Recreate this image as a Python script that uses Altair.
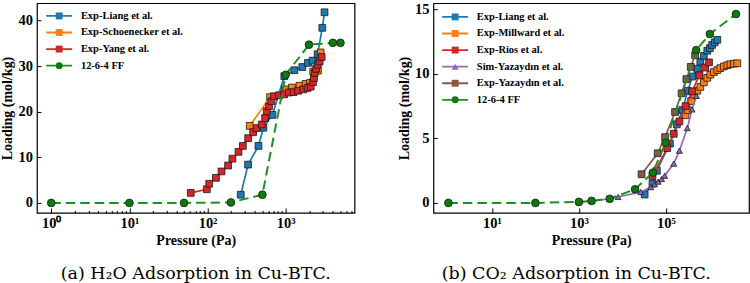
import altair as alt
import pandas as pd

# ---------------- H2O adsorption in Cu-BTC (P in Pa, loading in mol/kg) ----------------
h2o_liang_p = [266, 330, 448, 519, 676, 960, 1290, 1633, 1928, 2210, 2560, 2940, 3140]
h2o_liang_q = [1.8, 8.4, 12.5, 16.5, 19.3, 27.8, 29.1, 29.8, 30.7, 31.2, 32.6, 38.4, 41.8]

h2o_schoen_p = [347, 631, 977, 1200, 1500, 1800, 2040, 2250, 2580, 2800]
h2o_schoen_q = [16.9, 23.2, 24.9, 25.3, 25.7, 26.1, 26.3, 28.8, 29.0, 33.0]

h2o_yang_p = [61, 98, 105, 128, 151, 183, 208, 249, 283, 331, 383, 426, 494, 545, 572,
              612, 656, 708, 822, 955, 1100, 1259, 1445, 1682, 1905, 2090, 2238, 2300,
              2350, 2450, 2570, 2718, 2884]
h2o_yang_q = [2.2, 3.0, 4.2, 5.5, 6.9, 8.2, 9.7, 11.2, 12.5, 14.2, 15.5, 16.4, 17.2, 18.6, 20.1,
              21.2, 22.3, 23.4, 23.6, 23.8, 24.2, 24.3, 24.6, 24.9, 25.2, 25.5, 26.5, 27.4,
              28.5, 29.4, 30.3, 31.0, 32.0]

h2o_ff_p = [1, 10, 50, 199, 503, 1000, 1986, 4018, 5020]
h2o_ff_q = [0, 0, 0, 0.1, 1.8, 28.1, 34.7, 35.1, 35.1]

# ---------------- CO2 adsorption in Cu-BTC ----------------
co2_liang_p = [32400, 49000, 61700, 123000, 178000, 240000, 316000, 407000, 525000, 617000,
               741000, 891000, 1023000, 1148000, 1318000, 1514000]
co2_liang_q = [0.65, 1.5, 2.5, 4.6, 6.1, 7.2, 8.7, 9.8, 10.4, 10.95, 11.4, 11.8, 12.0, 12.25,
               12.45, 12.65]

co2_millward_p = [282000, 316000, 380000, 447000, 525000, 617000, 741000, 891000, 1047000,
                  1259000, 1514000, 1778000, 2138000, 2570000, 3020000, 3631000, 4365000]
co2_millward_q = [6.8, 7.2, 7.9, 8.4, 8.7, 9.0, 9.35, 9.7, 9.95, 10.15, 10.3, 10.45, 10.58,
                  10.68, 10.76, 10.8, 10.83]

co2_rios_p = [49000, 107000, 151000, 204000, 282000, 398000, 589000, 794000, 977000]
co2_rios_q = [2.09, 4.25, 5.36, 6.32, 7.5, 8.65, 9.9, 10.5, 10.9]

co2_sim_p = [1000, 2000, 5130, 7940, 26300, 44700, 55000, 66100, 79400, 93300, 151000,
             204000, 309000, 398000, 501000]
co2_sim_q = [0.05, 0.14, 0.32, 0.46, 0.85, 1.22, 1.45, 1.65, 1.85, 2.1, 3.05, 4.05, 5.8,
             7.25, 8.3]

co2_yaz_p = [27500, 64600, 95500, 162000, 229000, 295000, 372000, 468000]
co2_yaz_q = [2.22, 3.85, 5.1, 7.05, 8.5, 9.6, 10.55, 11.45]

co2_ff_p = [1, 100, 1000, 1950, 5100, 19500, 50000, 98000, 495000, 1020000, 4070000]
co2_ff_q = [0, 0, 0.08, 0.16, 0.32, 1.06, 2.35, 4.66, 11.85, 13.1, 14.65]

# ---------------- styling ----------------
FONT = "Liberation Serif, Times New Roman, serif"
EDGE = "#1a1a1a"
BLUE, ORANGE, RED = "#1f77b4", "#ff7f0e", "#d62728"
PURPLE, BROWN = "#9467bd", "#8c564b"
GREEN_LINE, GREEN_MARK = "#1f8f1f", "#0c7a0c"
# short horizontal stroke used as the line sample in the legends
LEGEND_LINE = "M-3.5,0H3.5"


def series(name, p, q, line, fill, shape, size, dashed=False):
    return dict(name=name, p=p, q=q, line=line, fill=fill, shape=shape, size=size, dashed=dashed)


h2o_series = [
    series("Exp-Liang et al.", h2o_liang_p, h2o_liang_q, BLUE, BLUE, "square", 46),
    series("Exp-Schoenecker et al.", h2o_schoen_p, h2o_schoen_q, ORANGE, ORANGE, "square", 46),
    series("Exp-Yang et al.", h2o_yang_p, h2o_yang_q, RED, RED, "square", 46),
    series("12-6-4 FF", h2o_ff_p, h2o_ff_q, GREEN_LINE, GREEN_MARK, "circle", 60, dashed=True),
]

co2_series = [
    series("Exp-Liang et al.", co2_liang_p, co2_liang_q, BLUE, BLUE, "square", 46),
    series("Exp-Millward et al.", co2_millward_p, co2_millward_q, ORANGE, ORANGE, "square", 46),
    series("Exp-Rios et al.", co2_rios_p, co2_rios_q, RED, RED, "square", 46),
    series("Sim-Yazaydın et al.", co2_sim_p, co2_sim_q, PURPLE, PURPLE, "triangle-up", 36),
    series("Exp-Yazaydın et al.", co2_yaz_p, co2_yaz_q, BROWN, BROWN, "square", 46),
    series("12-6-4 FF", co2_ff_p, co2_ff_q, GREEN_LINE, GREEN_MARK, "circle", 60, dashed=True),
]


def panel(data, tag, x_dom, y_dom, x_major, x_minor, y_ticks, label_expr, W, H,
          leg_x, leg_y, caption, cap_dx):
    names = [s["name"] for s in data]
    keys = ["%s%d" % (tag, i) for i in range(len(data))]
    stroke_scale = alt.Scale(domain=names, range=[s["line"] for s in data])
    fill_scale = alt.Scale(domain=keys, range=[s["fill"] for s in data])
    shape_scale = alt.Scale(domain=keys, range=[s["shape"] for s in data])

    common_leg = dict(orient="none", title=None, padding=0, rowPadding=5.6,
                      legendX=leg_x, legendY=leg_y, labelOffset=16.5,
                      labelFont=FONT, labelFontSize=10.5, labelFontWeight="bold",
                      labelColor="black", labelLimit=300)
    # line samples carry the series names; the marker legend sits on top of them
    line_legend = alt.Legend(symbolType=LEGEND_LINE, symbolSize=55, symbolStrokeWidth=1.8,
                             **common_leg)
    mark_legend = alt.Legend(symbolSize=48, symbolStrokeColor=EDGE, symbolStrokeWidth=0.8,
                             labelExpr="''", labelOpacity=0, **common_leg)

    xs = alt.Scale(type="log", domain=x_dom, nice=False)
    ys = alt.Scale(domain=y_dom, nice=False, zero=False)

    main_x = alt.Axis(orient="bottom", values=x_major, labelExpr=label_expr, tickSize=0,
                      labelPadding=4, title="Pressure (Pa)", titlePadding=3)
    main_y = alt.Axis(orient="left", values=y_ticks, tickSize=0, labelPadding=4.5,
                      title="Loading (mol/kg)", titlePadding=3)
    # inward-pointing ticks: opposite-side axes pulled onto the frame edge
    tick_x = alt.Axis(orient="top", offset=-H, values=x_major, tickSize=5,
                      labels=False, title=None)
    tick_y = alt.Axis(orient="right", offset=-W, values=y_ticks, tickSize=4,
                      labels=False, title=None)
    minor_x = alt.Axis(orient="top", offset=-H, values=x_minor, tickSize=2.5,
                       labels=False, title=None)

    axis_plan = {0: (main_x, main_y), 1: (tick_x, tick_y)}
    if x_minor:
        axis_plan[2] = (minor_x, None)

    layers = []
    idx = 0
    for i, s in enumerate(data):
        df = pd.DataFrame({"P": s["p"], "Q": s["q"], "name": s["name"], "key": keys[i]})
        for kind in ("line", "point"):
            ax_x, ax_y = axis_plan.get(idx, (None, None))
            x_enc = alt.X("P:Q", scale=xs, axis=ax_x)
            y_enc = alt.Y("Q:Q", scale=ys, axis=ax_y)
            if kind == "line":
                if s["dashed"]:
                    mark = alt.Chart(df).mark_line(strokeWidth=2, strokeDash=[9.5, 5])
                else:
                    mark = alt.Chart(df).mark_line(strokeWidth=1.7)
                layer = mark.encode(
                    x=x_enc, y=y_enc,
                    stroke=alt.Stroke("name:N", scale=stroke_scale, legend=line_legend),
                    order=alt.Order("P:Q"),
                )
            else:
                layer = alt.Chart(df).mark_point(
                    filled=True, size=s["size"], stroke=EDGE, strokeWidth=0.8, opacity=1
                ).encode(
                    x=x_enc, y=y_enc,
                    fill=alt.Fill("key:N", scale=fill_scale, legend=mark_legend),
                    shape=alt.Shape("key:N", scale=shape_scale, legend=mark_legend),
                )
            layers.append(layer)
            idx += 1

    return alt.layer(*layers).resolve_axis(x="independent", y="independent").properties(
        width=W, height=H,
        title=alt.TitleParams(caption, orient="bottom", anchor="middle", frame="group",
                              font="DejaVu Serif", fontSize=17.5, fontWeight="normal",
                              color="black", offset=18, dx=cap_dx),
    )


left_minor = [m * d for d in (1, 10, 100, 1000) for m in range(2, 10) if m * d < 7600]

left = panel(
    h2o_series, "h", x_dom=[0.656, 7600], y_dom=[-2.19, 43.8],
    x_major=[1, 10, 100, 1000], x_minor=left_minor, y_ticks=[0, 10, 20, 30, 40],
    label_expr="datum.value == 1 ? '10⁰' : datum.value == 10 ? '10¹' : "
               "datum.value == 100 ? '10²' : '10³'",
    W=318, H=210, leg_x=17, leg_y=7.5,
    caption="(a) H₂O Adsorption in Cu-BTC.", cap_dx=0,
)

right = panel(
    co2_series, "c", x_dom=[0.453, 8.1e6], y_dom=[-0.775, 15.49],
    x_major=[10, 1000, 100000], x_minor=[], y_ticks=[0, 5, 10, 15],
    label_expr="datum.value == 10 ? '10¹' : datum.value == 1000 ? '10³' : '10⁵'",
    W=316, H=210, leg_x=16.5, leg_y=8.5,
    caption="(b) CO₂ Adsorption in Cu-BTC.", cap_dx=-15,
)

chart = alt.hconcat(left, right, spacing=41).resolve_scale(
    stroke="independent", fill="independent", shape="independent"
).resolve_legend(
    stroke="independent", fill="independent", shape="independent"
).properties(
    padding={"left": 0, "top": 0, "right": 0, "bottom": 0}
).configure_view(
    stroke="black", strokeWidth=1.2
).configure_axis(
    grid=False, domain=False, tickColor="black", tickWidth=1,
    labelFont=FONT, labelFontSize=14.5, labelFontWeight="bold", labelColor="black",
    titleFont=FONT, titleFontSize=14, titleFontWeight="bold", titleColor="black",
).configure_legend(
    symbolDash=[1, 0]
)

chart.save("out.html", embed_options={"renderer": "svg", "actions": False})
